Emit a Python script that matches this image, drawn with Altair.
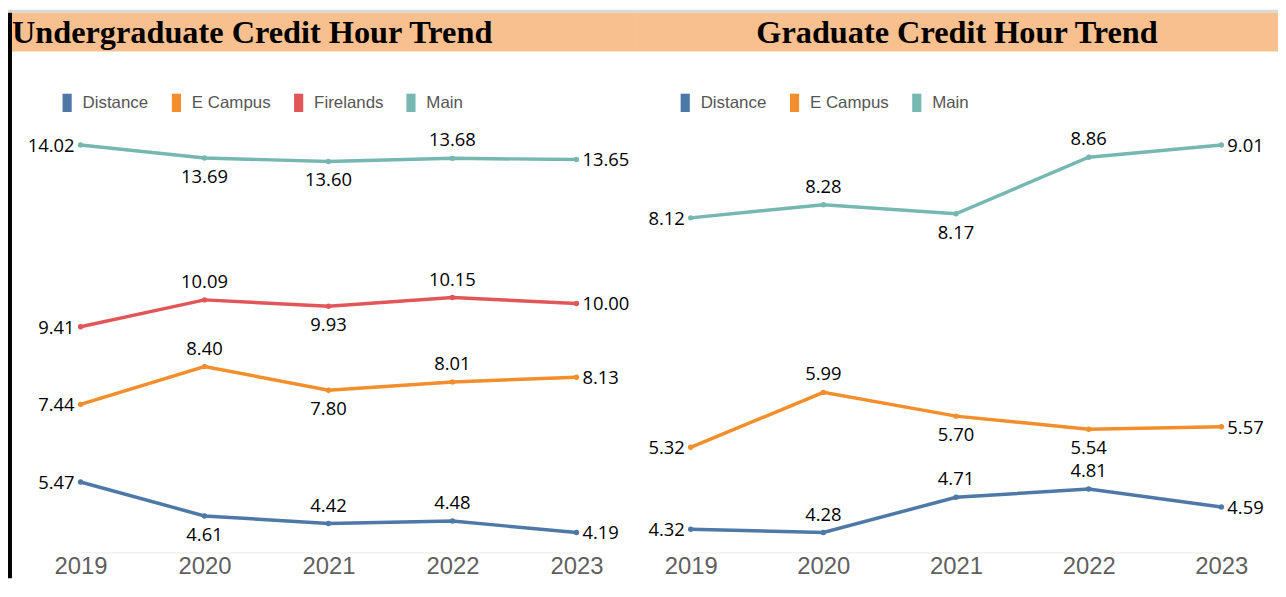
import altair as alt
import pandas as pd

years = ["2019", "2020", "2021", "2022", "2023"]

ug_campuses = ["Distance", "E Campus", "Firelands", "Main"]
ug_distance = [5.47, 4.61, 4.42, 4.48, 4.19]
ug_ecampus = [7.44, 8.40, 7.80, 8.01, 8.13]
ug_firelands = [9.41, 10.09, 9.93, 10.15, 10.00]
ug_main = [14.02, 13.69, 13.60, 13.68, 13.65]

gr_campuses = ["Distance", "E Campus", "Main"]
gr_distance = [4.32, 4.28, 4.71, 4.81, 4.59]
gr_ecampus = [5.32, 5.99, 5.70, 5.54, 5.57]
gr_main = [8.12, 8.28, 8.17, 8.86, 9.01]

# which side of each point its value label sits on
ug_label_side = {
    "Distance": ["left", "below", "above", "above", "right"],
    "E Campus": ["left", "above", "below", "above", "right"],
    "Firelands": ["left", "above", "below", "above", "right"],
    "Main": ["left", "below", "below", "above", "right"],
}
gr_label_side = {
    "Distance": ["left", "above", "above", "above", "right"],
    "E Campus": ["left", "above", "below", "below", "right"],
    "Main": ["left", "above", "below", "above", "right"],
}

campus_colors = {"Distance": "#4E79A7", "E Campus": "#F28E2B",
                 "Firelands": "#E15759", "Main": "#76B7B2"}

PEACH = "#F9C08F"
SANS = "Liberation Sans, Arial, sans-serif"
H = 546


def build_df(series, sides):
    rows = []
    for campus, vals in series.items():
        for y, v, s in zip(years, vals, sides[campus]):
            rows.append({"year": y, "campus": campus, "value": v,
                         "label": f"{v:.2f}", "side": s})
    return pd.DataFrame(rows)


ug_df = build_df({"Distance": ug_distance, "E Campus": ug_ecampus,
                  "Firelands": ug_firelands, "Main": ug_main}, ug_label_side)
gr_df = build_df({"Distance": gr_distance, "E Campus": gr_ecampus,
                  "Main": gr_main}, gr_label_side)

one = pd.DataFrame({"k": [0]})


def panel(df, campuses, title, W, y_domain, x_range, legend_x, title_x,
          title_align, border):
    xenc = alt.X("year:O",
                 scale=alt.Scale(type="point", range=x_range, padding=0),
                 axis=alt.Axis(title=None, labelAngle=0, ticks=False,
                               grid=False, domainColor="#EBEBEB",
                               labelFont=SANS, labelFontSize=24,
                               labelColor="#5F5F5F", labelPadding=2))
    yenc = alt.Y("value:Q",
                 scale=alt.Scale(domain=y_domain, nice=False, zero=False),
                 axis=None)
    cscale = alt.Scale(domain=campuses,
                       range=[campus_colors[c] for c in campuses])
    legend = alt.Legend(orient="none", legendX=legend_x, legendY=84,
                        direction="horizontal", title=None,
                        symbolType="M-0.5,-1H0.5V1H-0.5Z", symbolSize=340,
                        symbolStrokeWidth=0, symbolOpacity=1,
                        labelFont=SANS, labelFontSize=17,
                        labelColor="#555555", columnPadding=18,
                        labelOffset=6, padding=0)
    cenc = alt.Color("campus:N", scale=cscale, legend=legend)

    base = alt.Chart(df)
    strip = alt.Chart(one).mark_rect(color="#D9D9D9").encode(
        x=alt.value(0), x2=alt.value(W), y=alt.value(0), y2=alt.value(3))
    bar = alt.Chart(one).mark_rect(color=PEACH).encode(
        x=alt.value(4 if border else 0), x2=alt.value(W),
        y=alt.value(3), y2=alt.value(42))
    ttl = alt.Chart(one).mark_text(
        font="Liberation Serif", fontSize=32.5, fontWeight="bold",
        color="black", align=title_align, baseline="alphabetic").encode(
        x=alt.value(title_x), y=alt.value(33), text=alt.value(title))
    layers = [strip, bar, ttl]
    if border:
        layers.append(alt.Chart(one).mark_rect(color="black").encode(
            x=alt.value(0), x2=alt.value(4), y=alt.value(3),
            y2=alt.value(572)))

    line = base.mark_line(strokeWidth=3.5).encode(x=xenc, y=yenc, color=cenc)
    pts = base.mark_circle(size=30, opacity=1).encode(x=xenc, y=yenc,
                                                      color=cenc)
    layers += [line, pts]

    specs = [("left", dict(align="right", dx=-6, dy=1)),
             ("right", dict(align="left", dx=6, dy=1)),
             ("above", dict(align="center", dy=-18)),
             ("below", dict(align="center", dy=19))]
    for side, kw in specs:
        layers.append(base.transform_filter(alt.datum.side == side).mark_text(
            font="Open Sans", fontSize=18.5, color="black",
            baseline="middle", **kw).encode(x=xenc, y=yenc, text="label:N"))

    return alt.layer(*layers).properties(width=W, height=H)


left = panel(ug_df, ug_campuses, "Undergraduate Credit Hour Trend", 632,
             [3.686, 17.448], [73, 572], 50, 4, "left", True)
right = panel(gr_df, gr_campuses, "Graduate Credit Hour Trend", 646,
              [4.0374, 10.6594], [55, 589], 40, 323, "center", False)

chart = alt.hconcat(left, right, spacing=0).resolve_scale(
    color="independent", x="independent", y="independent"
).resolve_legend(color="independent").properties(
    padding=0, background="white"
).configure_view(stroke=None)

chart.save("out.html", embed_options={"renderer": "svg", "actions": False})
